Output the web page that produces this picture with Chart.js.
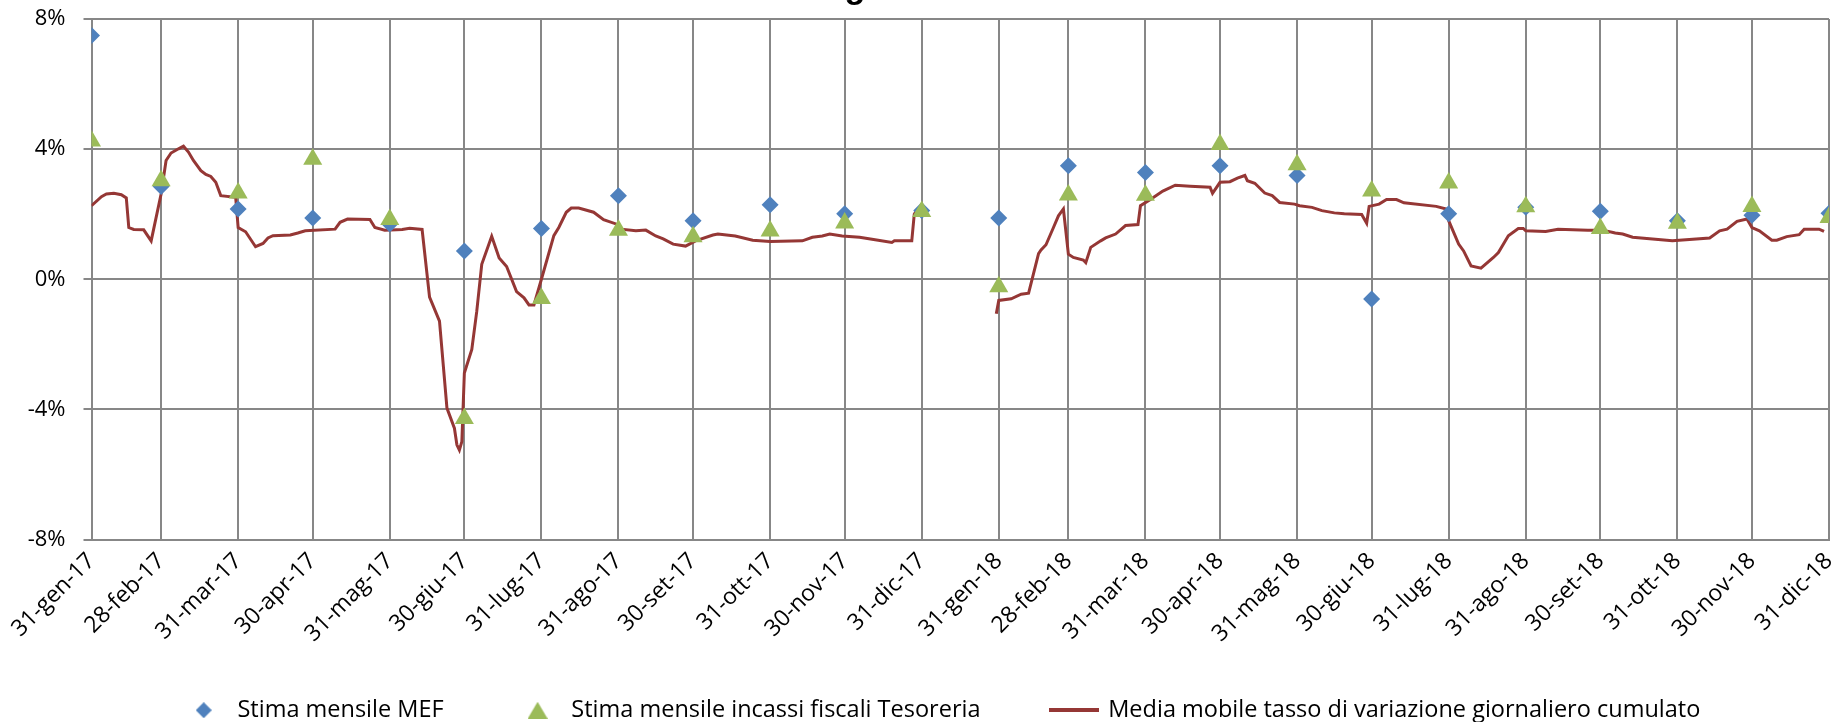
<!DOCTYPE html>
<html>
<head>
<meta charset="utf-8">
<script src="https://cdn.jsdelivr.net/npm/chart.js@4.4.1/dist/chart.umd.min.js"></script>
<style>
  html, body { margin: 0; padding: 0; background: #fff; }
  #wrap { width: 1840px; height: 722px; }
</style>
</head>
<body>
<div id="wrap"><canvas id="grafico" width="1840" height="722"></canvas></div>
<script>
// fine mese (categorie) e relative etichette
var fineMese = ['2017-01-31','2017-02-28','2017-03-31','2017-04-30','2017-05-31','2017-06-30',
                '2017-07-31','2017-08-31','2017-09-30','2017-10-31','2017-11-30','2017-12-31',
                '2018-01-31','2018-02-28','2018-03-31','2018-04-30','2018-05-31','2018-06-30',
                '2018-07-31','2018-08-31','2018-09-30','2018-10-31','2018-11-30','2018-12-31'];
var etichetteMese = ['31-gen-17','28-feb-17','31-mar-17','30-apr-17','31-mag-17','30-giu-17',
                     '31-lug-17','31-ago-17','30-set-17','31-ott-17','30-nov-17','31-dic-17',
                     '31-gen-18','28-feb-18','31-mar-18','30-apr-18','31-mag-18','30-giu-18',
                     '31-lug-18','31-ago-18','30-set-18','31-ott-18','30-nov-18','31-dic-18'];

// Stima mensile MEF (%)
var stimaMef = [7.49, 2.85, 2.16, 1.88, 1.70, 0.87, 1.56, 2.57, 1.80, 2.29, 2.01, 2.11,
                1.88, 3.49, 3.28, 3.49, 3.19, -0.61, 2.01, 2.21, 2.09, 1.80, 1.97, 2.03];
// Stima mensile incassi fiscali Tesoreria (%)
var stimaTesoreria = [4.25, 3.03, 2.65, 3.69, 1.84, -4.28, -0.59, 1.51, 1.31, 1.48, 1.73, 2.08,
                      -0.23, 2.59, 2.58, 4.14, 3.52, 2.71, 2.96, 2.23, 1.56, 1.72, 2.24, 1.90];

// media mobile: giorni dal 31-gen-17 e valori (%)
var mediaGiorni = [0, 4, 6, 9, 12, 14, 15, 17, 21, 24, 28, 30, 32, 35, 37, 39, 41, 44, 46, 48, 50, 52, 58, 59,
                   62, 66, 69, 71, 73, 80, 83, 86, 98, 100, 103, 112, 114, 118, 125, 128, 133,
                   136, 140, 143, 146, 147, 148, 149, 150, 153, 155, 157, 161, 164, 167, 171, 174, 176, 178,
                   181, 186, 188, 191, 193, 196, 202, 206, 211, 213, 219, 223, 227, 230, 234, 239, 243,
                   250, 252, 259, 266, 273, 286, 290, 294, 297, 302, 309, 314, 322, 323, 330, 331, 332,
                   349,
                   364, 365, 370, 374, 377, 381, 382, 384, 387, 389, 391, 393, 395, 399, 400, 402, 406,
                   408, 412, 416, 421, 422, 426, 431, 436, 442, 450, 451, 454, 458, 461, 464, 465, 468,
                   472, 475, 478, 484, 486, 491, 495, 500, 504, 511, 513, 514, 518, 521, 525, 528, 541,
                   545, 546, 550, 552, 555, 559, 564, 566, 570, 574, 576, 577, 585, 590, 602, 608, 613,
                   616, 620, 636, 651, 655, 658, 662, 666, 668, 671, 676, 678, 682, 687, 689, 695, 697];
var mediaValori = [2.26, 2.54, 2.62, 2.64, 2.60, 2.50, 1.59, 1.53, 1.52, 1.18, 2.62, 3.65, 3.88, 4.01, 4.09, 3.91, 3.65, 3.34, 3.22, 3.16, 2.98, 2.57, 2.52, 1.59,
                   1.46, 1.00, 1.10, 1.27, 1.34, 1.36, 1.42, 1.49, 1.54, 1.75, 1.85, 1.84, 1.59, 1.51, 1.53, 1.57, 1.53,
                   -0.55, -1.29, -3.96, -4.58, -5.09, -5.25, -4.99, -2.88, -2.16, -0.98, 0.46, 1.32, 0.65, 0.39, -0.38, -0.57, -0.79, -0.79,
                   0.00, 1.34, 1.59, 2.06, 2.19, 2.19, 2.06, 1.83, 1.70, 1.54, 1.49, 1.51, 1.33, 1.24, 1.08, 1.02, 1.18,
                   1.36, 1.39, 1.33, 1.20, 1.16, 1.18, 1.29, 1.33, 1.39, 1.33, 1.29, 1.23, 1.13, 1.18, 1.18, 2.00, 2.12,
                   null,
                   -1.06, -0.65, -0.60, -0.46, -0.43, 0.79, 0.90, 1.06, 1.59, 1.95, 2.16, 0.77, 0.67, 0.59, 0.51, 0.98, 1.18,
                   1.27, 1.39, 1.65, 1.68, 2.26, 2.45, 2.71, 2.89, 2.86, 2.83, 2.64, 2.98, 3.00, 3.11, 3.19, 3.03, 2.95,
                   2.65, 2.57, 2.36, 2.31, 2.26, 2.21, 2.11, 2.04, 2.01, 1.99, 1.72, 2.24, 2.31, 2.45, 2.45, 2.35, 2.24,
                   2.16, 1.80, 1.08, 0.87, 0.41, 0.34, 0.67, 0.82, 1.34, 1.56, 1.56, 1.49, 1.47, 1.54, 1.51, 1.51, 1.42,
                   1.39, 1.29, 1.18, 1.27, 1.49, 1.54, 1.78, 1.85, 1.59, 1.49, 1.20, 1.20, 1.31, 1.37, 1.54, 1.54, 1.47];

var tickY = [-8, -4, 0, 4, 8];

var BLU = '#4F81BD', VERDE = '#9BBB59', ROSSO = '#953735', GRIGIO = '#878787';
var FONT = '"Open Sans", "Liberation Sans", sans-serif';

var inizio = Date.parse(fineMese[0]);
function giorno(d) { return Math.round((Date.parse(d) - inizio) / 86400000); }
var giorniMese = fineMese.map(giorno);

function punti(xs, ys) {
    return xs.map(function (x, i) { return { x: x, y: ys[i] }; });
}

// simboli per la legenda
function simbolo(tipo, colore) {
    var c = document.createElement('canvas');
    var g = c.getContext('2d');
    if (tipo === 'linea') {
        c.width = 50; c.height = 4;
        g.fillStyle = colore; g.fillRect(0, 0, 50, 4);
    } else if (tipo === 'rombo') {
        c.width = 16; c.height = 16;
        g.fillStyle = colore;
        g.beginPath(); g.moveTo(8, 0); g.lineTo(16, 8); g.lineTo(8, 16); g.lineTo(0, 8); g.closePath(); g.fill();
    } else {
        c.width = 20; c.height = 17;
        g.fillStyle = colore;
        g.beginPath(); g.moveTo(10, 0); g.lineTo(20, 17); g.lineTo(0, 17); g.closePath(); g.fill();
    }
    return c;
}
var simboliLegenda = [simbolo('rombo', BLU), simbolo('triangolo', VERDE), simbolo('linea', ROSSO)];

// titolo tagliato in alto (si vede solo la coda della "g")
var titoloTagliato = {
    id: 'titoloTagliato',
    afterLayout: function (chart) {
        // etichette ruotate libere di scendere sotto l'asse, legenda un po' a destra
        chart.scales.x.bottom += 60;
        chart.legend.left += 25;
        chart.legend.right += 25;
    },
    afterDraw: function (chart) {
        var ctx = chart.ctx;
        ctx.save();
        ctx.fillStyle = '#000';
        ctx.font = 'bold 34px "Liberation Sans", sans-serif';
        ctx.textAlign = 'center';
        ctx.textBaseline = 'alphabetic';
        ctx.fillText('g', 855, -2);
        ctx.restore();
    }
};

var chart = new Chart(document.getElementById('grafico').getContext('2d'), {
    type: 'scatter',
    data: {
        datasets: [{
            label: 'Stima mensile MEF',
            data: punti(giorniMese, stimaMef),
            pointStyle: 'rectRot',
            pointRadius: 8.5,
            pointHoverRadius: 8.5,
            backgroundColor: BLU,
            borderColor: BLU,
            borderWidth: 0,
            order: 2
        }, {
            label: 'Stima mensile incassi fiscali Tesoreria',
            data: punti(giorniMese, stimaTesoreria),
            pointStyle: 'triangle',
            pointRadius: 11,
            pointHoverRadius: 11,
            backgroundColor: VERDE,
            borderColor: VERDE,
            borderWidth: 0,
            order: 1
        }, {
            label: 'Media mobile tasso di variazione giornaliero cumulato',
            data: punti(mediaGiorni, mediaValori),
            showLine: true,
            spanGaps: false,
            borderColor: ROSSO,
            backgroundColor: ROSSO,
            borderWidth: 3,
            pointRadius: 0,
            tension: 0,
            order: 3
        }]
    },
    options: {
        responsive: false,
        animation: false,
        devicePixelRatio: 1,
        layout: { padding: { top: 19, right: 8, left: 0, bottom: -10 } },
        plugins: {
            title: { display: false },
            tooltip: { enabled: false },
            legend: {
                position: 'bottom',
                labels: {
                    usePointStyle: true,
                    pointStyleWidth: 44,
                    padding: 72,
                    color: '#000',
                    font: { family: FONT, size: 23.5 },
                    sort: function (a, b) { return a.datasetIndex - b.datasetIndex; },
                    generateLabels: function (ch) {
                        var voci = Chart.defaults.plugins.legend.labels.generateLabels(ch);
                        voci.forEach(function (v) { v.pointStyle = simboliLegenda[v.datasetIndex]; });
                        return voci;
                    }
                }
            }
        },
        scales: {
            x: {
                type: 'linear',
                min: 0,
                max: giorniMese[giorniMese.length - 1],
                afterBuildTicks: function (scale) {
                    scale.ticks = giorniMese.map(function (v) { return { value: v }; });
                },
                afterFit: function (scale) {
                    scale.height = 87;
                    scale.paddingLeft = 0;
                    scale.paddingRight = 0;
                },
                grid: { color: GRIGIO, lineWidth: 2, drawTicks: false },
                border: { color: GRIGIO, width: 2 },
                ticks: {
                    autoSkip: false,
                    maxRotation: 45,
                    minRotation: 45,
                    padding: 8,
                    color: '#000',
                    font: { family: FONT, size: 23 },
                    callback: function (v, i) { return etichetteMese[i]; }
                }
            },
            y: {
                min: -8,
                max: 8,
                afterBuildTicks: function (scale) {
                    scale.ticks = tickY.map(function (v) { return { value: v }; });
                },
                afterFit: function (scale) {
                    scale.width = 91.5;
                    scale.paddingTop = 0;
                    scale.paddingBottom = 0;
                },
                grid: { color: GRIGIO, lineWidth: 2, tickLength: 8 },
                border: { color: GRIGIO, width: 2 },
                ticks: {
                    padding: 18,
                    color: '#000',
                    font: { family: FONT, size: 22 },
                    callback: function (v) { return v + '%'; }
                }
            }
        }
    },
    plugins: [titoloTagliato]
});
</script>
</body>
</html>
